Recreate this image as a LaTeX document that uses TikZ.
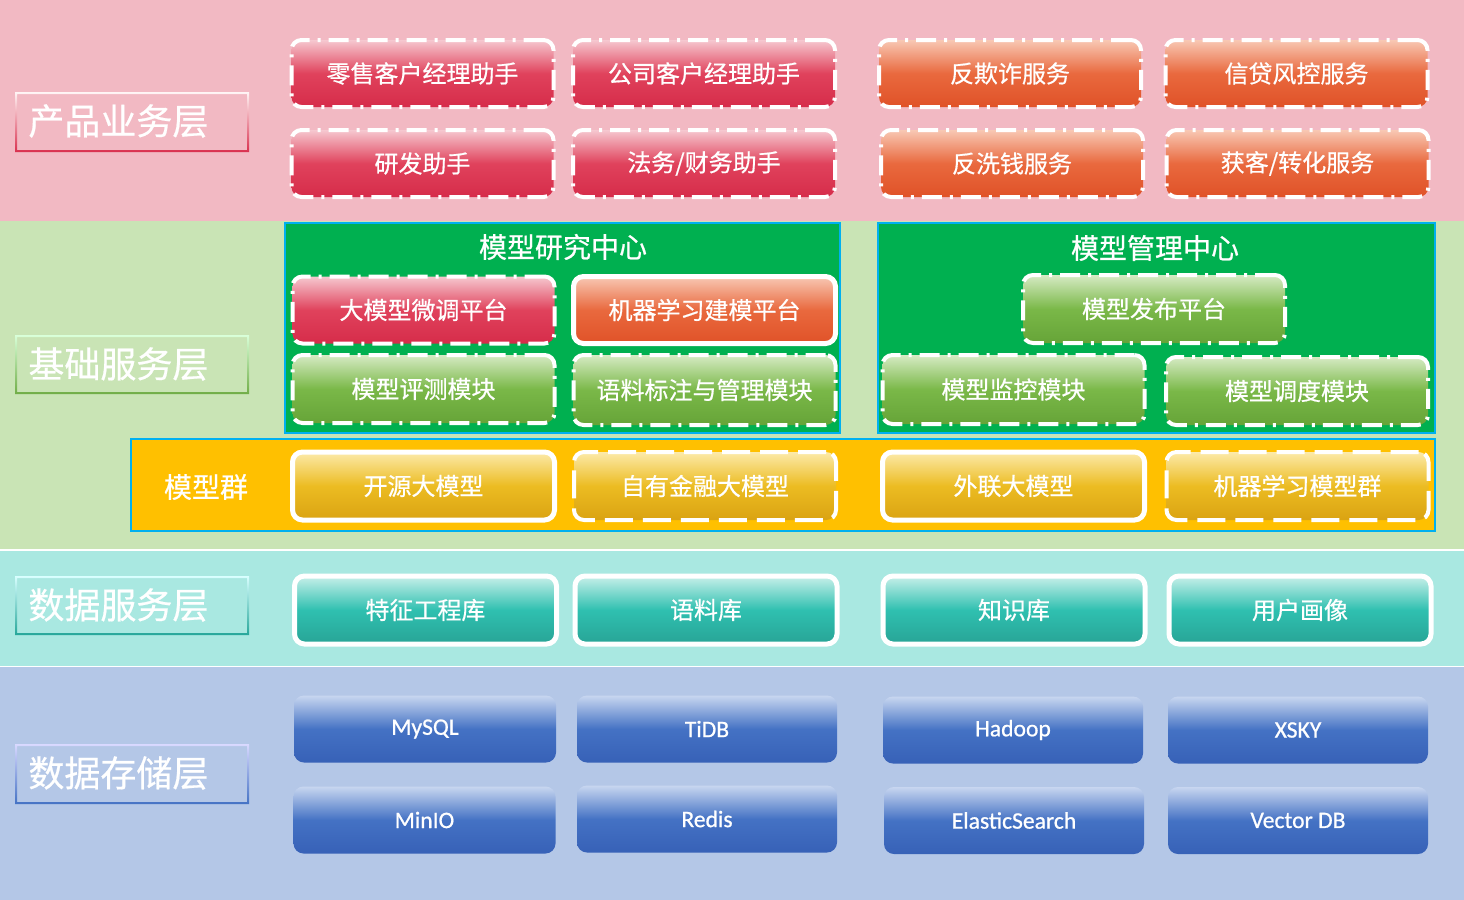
\documentclass[tikz,border=0pt]{standalone}
\usepackage{fontspec}
\newfontfamily\cjk{Noto Sans CJK SC}[FakeBold=0.6]
\newfontfamily\lat{Carlito}[FakeBold=0.8]
\definecolor{bandpink}{HTML}{F2B9C3}
\definecolor{bandgreen}{HTML}{C9E4B5}
\definecolor{bandteal}{HTML}{A9E8E1}
\definecolor{bandblue}{HTML}{B4C7E7}
\definecolor{cyanb}{HTML}{00B0F0}
\definecolor{contgreen}{HTML}{00B050}
\definecolor{contgold}{HTML}{FFC000}
\tikzset{
  bx/.style={rounded corners=5pt, minimum width=131pt, minimum height=33.5pt, inner sep=0pt, text=white, font=\cjk\fontsize{12}{14}\selectfont},
  bxl/.style={bx, font=\lat\fontsize{11.8}{13}\selectfont},
  dd/.style={draw=white, line width=2pt, dash pattern=on 10pt off 4pt on 1.5pt off 4pt},
  dsh/.style={draw=white, line width=2pt, dash pattern=on 14pt off 5pt},
  sol/.style={draw=white, line width=2.5pt},
  crim/.style={top color={rgb,255:red,246;green,200;blue,208}, bottom color={rgb,255:red,214;green,44;blue,74}, middle color={rgb,255:red,224;green,66;blue,92}},
  oran/.style={top color={rgb,255:red,248;green,200;blue,180}, bottom color={rgb,255:red,224;green,82;blue,40}, middle color={rgb,255:red,233;green,105;blue,62}},
  grn/.style={top color={rgb,255:red,214;green,235;blue,196}, bottom color={rgb,255:red,102;green,164;blue,56}, middle color={rgb,255:red,122;green,184;blue,72}},
  gold/.style={top color={rgb,255:red,252;green,234;blue,170}, bottom color={rgb,255:red,218;green,163;blue,18}, middle color={rgb,255:red,236;green,188;blue,34}},
  teal/.style={top color={rgb,255:red,200;green,240;blue,234}, bottom color={rgb,255:red,40;green,164;blue,150}, middle color={rgb,255:red,47;green,192;blue,176}},
  blu/.style={top color={rgb,255:red,200;green,214;blue,240}, bottom color={rgb,255:red,55;green,97;blue,183}, middle color={rgb,255:red,68;green,114;blue,196}},
  lbl/.style={anchor=west, text=white, inner sep=0pt, font=\cjk\fontsize{18}{21}\selectfont},
  ttl/.style={text=white, inner sep=0pt, font=\cjk\fontsize{14}{16}\selectfont},
  cont/.style={draw=cyanb, line width=1pt},
}
\begin{document}
\begin{tikzpicture}[x=0.5pt,y=-0.5pt]
\useasboundingbox (0,0) rectangle (1464,900);
\fill[white] (0,0) rectangle (1464,900);
% bands
\fill[bandpink] (0,0) rectangle (1464,221);
\fill[bandgreen] (0,221) rectangle (1464,548.5);
\fill[bandteal] (0,550.5) rectangle (1464,665.5);
\fill[bandblue] (0,667) rectangle (1464,900);

% layer labels
\shade[top color=white!85!pink, bottom color={rgb,255:red,217;green,48;blue,78}, even odd rule]
  (15,92) rectangle (249,152) (17,94) rectangle (247,150);
\node[lbl] (l1) at (28,121) {产品业务层};
\shade[top color=white!85!green, bottom color={rgb,255:red,112;green,173;blue,71}, even odd rule]
  (15,335) rectangle (249,394) (17,337) rectangle (247,392);
\node[lbl] (l2) at (28,364) {基础服务层};
\shade[top color=white!85!cyan, bottom color={rgb,255:red,38;green,166;blue,154}, even odd rule]
  (15,576) rectangle (249,635) (17,578) rectangle (247,633);
\node[lbl] (l3) at (28,605) {数据服务层};
\shade[top color=white!85!blue, bottom color={rgb,255:red,68;green,114;blue,196}, even odd rule]
  (15,744) rectangle (249,804) (17,746) rectangle (247,802);
\node[lbl] (l4) at (28,773) {数据存储层};

% product layer
\node[bx,crim,dd] (p1) at (422.5,73.5) {零售客户经理助手};
\node[bx,crim,dd] (p2) at (704,73.5) {公司客户经理助手};
\node[bx,oran,dd] (p3) at (1010,73.5) {反欺诈服务};
\node[bx,oran,dd] (p4) at (1296.5,73.5) {信贷风控服务};
\node[bx,crim,dd] (p5) at (422.5,163.5) {研发助手};
\node[bx,crim,dd] (p6) at (704,163.5) {法务/财务助手};
\node[bx,oran,dd] (p7) at (1012,163.5) {反洗钱服务};
\node[bx,oran,dd] (p8) at (1297.5,163.5) {获客/转化服务};

% containers
\filldraw[fill=contgreen, cont] (285,223) rectangle (840,433);
\node[ttl] (t1) at (563,247) {模型研究中心};
\filldraw[fill=contgreen, cont] (878,223) rectangle (1435,433);
\node[ttl] (t2) at (1155,248) {模型管理中心};
\filldraw[fill=contgold, cont] (131,439) rectangle (1435,531);
\node[ttl] (t3) at (206,487) {模型群};

% basic service layer
\node[bx,crim,dd] (b1) at (423.5,310) {大模型微调平台};
\node[bx,oran,sol] (b2) at (704.5,310) {机器学习建模平台};
\node[bx,grn,dd,minimum height=34pt] (b3) at (423.5,389) {模型评测模块};
\node[bx,grn,dd,minimum height=35pt] (b4) at (704.5,390) {语料标注与管理模块};
\node[bx,grn,dd,minimum height=34pt] (b5) at (1154,309) {模型发布平台};
\node[bx,grn,dd,minimum height=34.5pt] (b6) at (1013.5,389.5) {模型监控模块};
\node[bx,grn,dd,minimum height=34pt] (b7) at (1297,391) {模型调度模块};

% model group
\node[bx,gold,sol,minimum height=34pt] (m1) at (423.5,486) {开源大模型};
\node[bx,gold,dsh,minimum height=34pt] (m2) at (705,486) {自有金融大模型};
\node[bx,gold,sol,minimum height=34pt] (m3) at (1013.5,486) {外联大模型};
\node[bx,gold,dsh,minimum height=34pt] (m4) at (1297.5,486) {机器学习模型群};

% data service
\node[bx,teal,sol,minimum height=34pt] (d1) at (425.5,610) {特征工程库};
\node[bx,teal,sol,minimum height=34pt] (d2) at (706,610) {语料库};
\node[bx,teal,sol,minimum height=34pt] (d3) at (1014,610) {知识库};
\node[bx,teal,sol,minimum height=34pt] (d4) at (1300,610) {用户画像};

% data storage
\node[bxl,blu] (s1) at (425,729) {MySQL};
\node[bxl,blu,minimum width=130pt] (s2) at (707,729) {TiDB};
\node[bxl,blu,minimum width=130pt] (s3) at (1013,730) {Hadoop};
\node[bxl,blu,minimum width=130pt] (s4) at (1298,730) {XSKY};
\node[bxl,blu] (s5) at (424.5,820) {MinIO};
\node[bxl,blu,minimum width=130pt] (s6) at (707,819) {Redis};
\node[bxl,blu,minimum width=130pt] (s7) at (1014,820.5) {ElasticSearch};
\node[bxl,blu,minimum width=130pt] (s8) at (1298,820.5) {Vector DB};
\end{tikzpicture}
\end{document}
